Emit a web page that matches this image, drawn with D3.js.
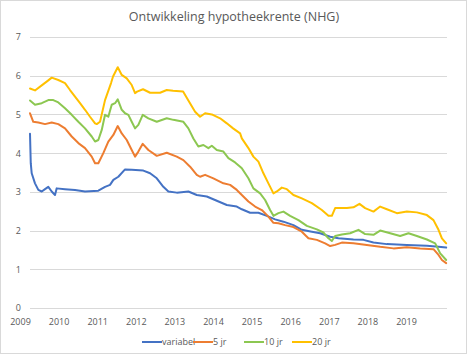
<!DOCTYPE html>
<html><head><meta charset="utf-8">
<script src="https://cdn.jsdelivr.net/npm/d3@7"></script>
<style>body{margin:0;background:#fff}svg{display:block}text{font-family:"Open Sans","Liberation Sans",sans-serif}</style>
</head><body>
<script>
const title = "Ontwikkeling hypotheekrente (NHG)";
const seriesNames = ["variabel", "5 jr", "10 jr", "20 jr"];
const seriesColors = ["#4472C4", "#ED7D31", "#8CC751", "#FFC000"];
const yTicks = [0,1,2,3,4,5,6,7];
const xLabels = [2009,2010,2011,2012,2013,2014,2015,2016,2017,2018,2019];

// [decimal year, rate %]
const variabel = [[2009.000,4.50],[2009.020,3.74],[2009.045,3.48],[2009.132,3.22],[2009.220,3.05],[2009.310,3.01],[2009.397,3.07],[2009.484,3.13],[2009.574,3.01],[2009.661,2.92],[2009.706,3.09],[2009.926,3.07],[2010.190,3.05],[2010.455,3.01],[2010.807,3.03],[2010.984,3.13],[2011.116,3.18],[2011.204,3.31],[2011.336,3.39],[2011.513,3.58],[2011.690,3.57],[2011.997,3.55],[2012.175,3.48],[2012.352,3.35],[2012.526,3.13],[2012.659,3.01],[2012.881,2.98],[2013.188,3.01],[2013.410,2.92],[2013.675,2.88],[2013.939,2.77],[2014.204,2.66],[2014.468,2.62],[2014.601,2.55],[2014.820,2.46],[2015.040,2.46],[2015.262,2.38],[2015.481,2.29],[2015.701,2.23],[2015.966,2.14],[2016.188,2.02],[2016.452,1.97],[2016.672,1.93],[2016.937,1.84],[2017.156,1.80],[2017.553,1.77],[2017.817,1.76],[2018.082,1.69],[2018.437,1.65],[2018.966,1.63],[2019.495,1.61],[2019.802,1.58],[2020.005,1.56]];
const jr5 = [[2009.000,5.03],[2009.087,4.81],[2009.220,4.79],[2009.397,4.75],[2009.574,4.79],[2009.749,4.75],[2009.926,4.64],[2010.103,4.43],[2010.278,4.26],[2010.455,4.13],[2010.632,3.91],[2010.720,3.74],[2010.807,3.74],[2010.939,4.00],[2011.071,4.30],[2011.204,4.47],[2011.320,4.70],[2011.426,4.51],[2011.558,4.34],[2011.690,4.08],[2011.778,3.91],[2011.865,4.04],[2011.981,4.24],[2012.130,4.08],[2012.352,3.93],[2012.616,4.01],[2012.881,3.91],[2013.056,3.82],[2013.233,3.65],[2013.410,3.44],[2013.497,3.39],[2013.630,3.44],[2013.849,3.35],[2014.114,3.22],[2014.291,3.18],[2014.468,3.05],[2014.601,2.92],[2014.775,2.75],[2014.952,2.62],[2015.130,2.53],[2015.304,2.36],[2015.437,2.20],[2015.569,2.19],[2015.746,2.14],[2015.966,2.09],[2016.188,1.97],[2016.362,1.80],[2016.585,1.76],[2016.804,1.67],[2016.937,1.60],[2017.069,1.63],[2017.246,1.69],[2017.553,1.67],[2017.907,1.63],[2018.259,1.58],[2018.611,1.54],[2018.966,1.57],[2019.317,1.54],[2019.669,1.52],[2019.802,1.37],[2019.892,1.24],[2020.005,1.16]];
const jr10 = [[2009.000,5.36],[2009.132,5.25],[2009.310,5.29],[2009.484,5.37],[2009.616,5.37],[2009.749,5.31],[2009.926,5.16],[2010.103,4.99],[2010.278,4.81],[2010.455,4.64],[2010.632,4.43],[2010.720,4.30],[2010.807,4.34],[2010.897,4.60],[2010.984,4.99],[2011.071,4.94],[2011.161,5.25],[2011.249,5.29],[2011.320,5.39],[2011.426,5.12],[2011.513,5.03],[2011.601,4.99],[2011.690,4.81],[2011.778,4.64],[2011.865,4.73],[2011.981,4.99],[2012.130,4.90],[2012.352,4.81],[2012.616,4.90],[2012.791,4.86],[2013.056,4.81],[2013.188,4.64],[2013.320,4.38],[2013.452,4.17],[2013.585,4.21],[2013.717,4.13],[2013.807,4.19],[2013.939,4.08],[2014.114,4.04],[2014.246,3.87],[2014.423,3.76],[2014.556,3.65],[2014.601,3.61],[2014.775,3.35],[2014.907,3.09],[2015.085,2.96],[2015.217,2.79],[2015.349,2.53],[2015.437,2.38],[2015.569,2.45],[2015.701,2.49],[2015.878,2.38],[2016.098,2.27],[2016.320,2.12],[2016.585,2.03],[2016.757,1.95],[2016.892,1.80],[2016.981,1.73],[2017.069,1.86],[2017.246,1.90],[2017.466,1.93],[2017.685,2.02],[2017.862,1.91],[2018.082,1.89],[2018.259,2.00],[2018.524,1.93],[2018.788,1.86],[2019.008,1.93],[2019.230,1.86],[2019.495,1.77],[2019.714,1.67],[2019.847,1.41],[2020.005,1.24]];
const jr20 = [[2009.000,5.67],[2009.132,5.62],[2009.310,5.75],[2009.484,5.88],[2009.574,5.95],[2009.749,5.89],[2009.926,5.81],[2010.058,5.63],[2010.190,5.46],[2010.323,5.29],[2010.455,5.12],[2010.587,4.94],[2010.720,4.77],[2010.765,4.75],[2010.852,4.81],[2010.984,5.37],[2011.143,5.81],[2011.196,5.98],[2011.320,6.22],[2011.426,6.02],[2011.558,5.93],[2011.690,5.76],[2011.778,5.55],[2011.831,5.59],[2011.989,5.65],[2012.175,5.56],[2012.439,5.56],[2012.616,5.63],[2012.783,5.61],[2013.048,5.59],[2013.180,5.37],[2013.365,5.07],[2013.497,4.94],[2013.630,5.03],[2013.807,5.00],[2014.026,4.90],[2014.204,4.77],[2014.370,4.64],[2014.556,4.51],[2014.601,4.38],[2014.775,4.13],[2014.907,3.91],[2015.040,3.78],[2015.172,3.48],[2015.304,3.22],[2015.437,2.96],[2015.526,3.01],[2015.659,3.11],[2015.791,3.07],[2015.966,2.92],[2016.188,2.83],[2016.452,2.71],[2016.717,2.53],[2016.892,2.38],[2016.981,2.38],[2017.069,2.58],[2017.246,2.58],[2017.378,2.58],[2017.553,2.60],[2017.712,2.69],[2017.862,2.58],[2018.082,2.49],[2018.259,2.62],[2018.437,2.55],[2018.701,2.45],[2018.966,2.49],[2019.230,2.47],[2019.495,2.40],[2019.669,2.27],[2019.802,2.02],[2019.892,1.80],[2020.005,1.67]];

const allSeries = [variabel, jr5, jr10, jr20];

const W = 468, H = 356;
const svg = d3.select("body").append("svg").attr("width", W).attr("height", H);

svg.append("rect").attr("x",0.5).attr("y",0.5).attr("width",W-2).attr("height",H-3)
  .attr("fill","#fff").attr("stroke","#d9d9d9");

const x = d3.scaleLinear().domain([2009, 2020]).range([30, 446]);
const y = d3.scaleLinear().domain([0, 7]).range([308, 37]);
const xLab = d3.scaleLinear().domain([2009, 2019]).range([20, 406]);

svg.append("text").attr("x", 234).attr("y", 21).attr("text-anchor","middle")
  .attr("font-size", 12.5).attr("fill","#595959").text(title);

// gridlines
svg.append("g").selectAll("line").data(yTicks).join("line")
  .attr("x1", 30).attr("x2", 447)
  .attr("y1", d => Math.round(y(d)) + 0.5).attr("y2", d => Math.round(y(d)) + 0.5)
  .attr("stroke", "#d9d9d9").attr("stroke-width", 1);

// y axis labels
const yAxis = svg.append("g").attr("transform","translate(21,0)")
  .call(d3.axisLeft(y).tickValues(yTicks).tickFormat(d3.format("d")).tickSize(0).tickPadding(0));
yAxis.select(".domain").remove();
yAxis.selectAll("text").attr("fill","#595959").attr("font-size",9)
  .attr("font-family","'Open Sans','Liberation Sans',sans-serif");

// x axis labels
const xAxis = svg.append("g").attr("transform","translate(0,318.5)")
  .call(d3.axisBottom(xLab).tickValues(xLabels).tickFormat(d3.format("d")).tickSize(0).tickPadding(0));
xAxis.select(".domain").remove();
xAxis.selectAll("text").attr("fill","#595959").attr("font-size",9)
  .attr("font-family","'Open Sans','Liberation Sans',sans-serif");

// lines
const line = d3.line().x(d => x(d[0])).y(d => y(d[1]));
svg.append("g").selectAll("path").data(allSeries).join("path")
  .attr("d", line).attr("fill","none")
  .attr("stroke", (d,i) => seriesColors[i]).attr("stroke-width", 2)
  .attr("stroke-linejoin","round").attr("stroke-linecap","round");

// legend
const legendX = [142, 193, 244, 292];
const lg = svg.append("g").selectAll("g").data(seriesNames).join("g")
  .attr("transform", (d,i) => `translate(${legendX[i]},342)`);
lg.append("line").attr("x1",0).attr("x2",20).attr("y1",0).attr("y2",0)
  .attr("stroke",(d,i)=>seriesColors[i]).attr("stroke-width",2);
lg.append("text").attr("x",20).attr("y",3.2).attr("font-size",9).attr("fill","#595959").text(d=>d);
</script>
</body></html>
